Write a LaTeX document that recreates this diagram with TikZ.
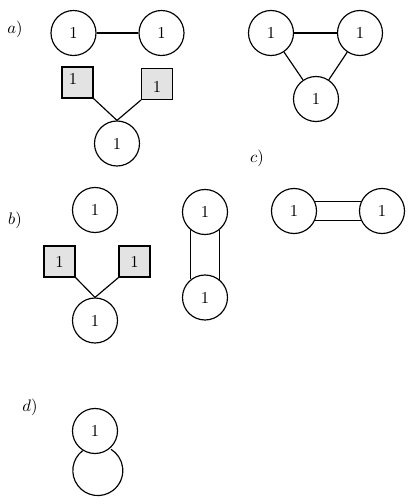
\documentclass[tikz,border=0pt]{standalone}
\usetikzlibrary{calc}
\begin{document}
\begin{tikzpicture}[x=0.6pt,y=-0.6pt,
  vert/.style={circle,draw,line width=0.7pt,minimum size=27pt,inner sep=0pt},
  sq/.style={rectangle,draw,line width=0.7pt,fill=gray!22,minimum size=18.6pt,inner sep=0pt},
  edg/.style={line width=0.7pt},
  lab/.style={inner sep=0pt}]
\useasboundingbox (0,0) rectangle (415,504);
% labels
\node[lab] (la) at (15,29) {$a)$};
\node[lab] (lb) at (15,220) {$b)$};
\node[lab] (lc) at (257,158) {$c)$};
\node[lab] (ld) at (30,407) {$d)$};
% a)
\node[vert] (a1) at (73.5,33) {1};
\node[vert] (a2) at (161.5,33) {1};
\node[sq] (as1) at (77.5,82.5) {};
\node[lab] (as1t) at (73,79) {1};
\node[sq] (as2) at (157,84) {};
\node[lab] (as2t) at (157,86.5) {1};
\node[vert] (a3) at (117,143.5) {1};
\draw[edg] (a1) -- (a2);
\draw[edg] (as1.south east) -- (a3.north);
\draw[edg] (as2.south west) -- (a3.north);
% triangle
\node[vert] (t1) at (271,33) {1};
\node[vert] (t2) at (360,33) {1};
\node[vert] (t3) at (316,99) {1};
\draw[edg] (t1) -- (t2);
\draw[edg] (t1) -- (t3);
\draw[edg] (t2) -- (t3);
% c)
\node[vert] (c1) at (294,211) {1};
\node[vert] (c2) at (382,211) {1};
\draw[edg] (c1.25) -- (c2.155);
\draw[edg] (c1.-25) -- (c2.-155);
% b)
\node[vert] (b1) at (95,210) {1};
\node[sq] (bs1) at (59.5,261.5) {1};
\node[sq] (bs2) at (134.5,261.5) {1};
\node[vert] (b2) at (95,320.5) {1};
\draw[edg] (bs1.south east) -- (b2.north);
\draw[edg] (bs2.south west) -- (b2.north);
% vertical pair
\node[vert] (v1) at (205,212) {1};
\node[vert] (v2) at (205,297.5) {1};
\draw[edg] (v1.-128.5) -- (v2.128.5);
\draw[edg] (v1.-51.5) -- (v2.51.5);
% d)
\node[vert] (d1) at (95,431) {1};
\draw[edg] (d1.-122) arc[start angle=127, end angle=418, radius=15pt];
\end{tikzpicture}
\end{document}
